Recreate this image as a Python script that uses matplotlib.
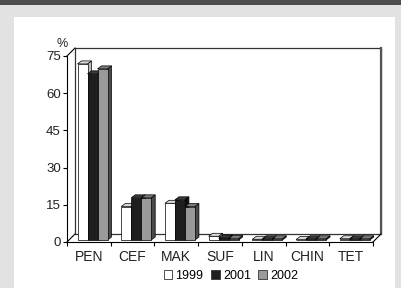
import numpy as np
import matplotlib.pyplot as plt
from matplotlib.patches import Rectangle, Polygon
from matplotlib.lines import Line2D

plt.rcParams['font.family'] = ['Liberation Sans Narrow', 'Liberation Sans', 'DejaVu Sans']

# data (%)
categories = ['PEN', 'CEF', 'MAK', 'SUF', 'LIN', 'CHIN', 'TET']
years = ['1999', '2001', '2002']
v1999 = [71.0, 13.5, 14.8, 1.5, 0.3, 0.2, 0.5]
v2001 = [67.0, 17.0, 16.2, 0.8, 0.5, 0.5, 0.5]
v2002 = [69.0, 17.0, 13.5, 0.6, 0.5, 0.5, 0.5]
series = [v1999, v2001, v2002]
yticks = [0, 15, 30, 45, 60, 75]

face = ['#ffffff', '#1e1e1e', '#9a9a9a']
top_c = ['#d8d8d8', '#3a3a3a', '#7a7a7a']
side_c = ['#bdbdbd', '#111111', '#4a4a4a']

W, H = 401, 288
fig = plt.figure(figsize=(W / 100, H / 100), dpi=100)
fig.patch.set_facecolor('#e2e2e2')
# dark band at top and white panel
fig.patches.append(Rectangle((0, 1 - 5 / H), 1, 5 / H, transform=fig.transFigure,
                             facecolor='#4d4d4d', edgecolor='none', zorder=-2))
fig.patches.append(Rectangle((14 / W, 0), (395 - 14) / W, (288 - 17) / H,
                             transform=fig.transFigure, facecolor='white',
                             edgecolor='none', zorder=-1))

x0, x1, y0, y1 = 67, 373, 242, 56
ax = fig.add_axes([x0 / W, (H - y0) / H, (x1 - x0) / W, (y0 - y1) / H])
ax.set_xlim(0, 7)
ax.set_ylim(0, 75)
ax.patch.set_alpha(0)

px_x = 7 / (x1 - x0)
px_y = 75 / (y0 - y1)
dx, dy = 8 * px_x, 8 * px_y      # wall depth
bdx, bdy = 4 * px_x, 3 * px_y    # bar depth
ox, oy = 1.5 * px_x, 2 * px_y    # bar offset into the floor
bw = 10 * px_x
start = 9 * px_x

lk = dict(color='black', lw=0.8, clip_on=False)
# back wall and floor
ax.add_patch(Rectangle((dx, dy), 7, 75, facecolor='white', edgecolor='#333333',
                       lw=0.9, clip_on=False, zorder=0))
ax.plot([7 + dx, 7 + dx], [dy, 75 + dy], color='#555555', lw=1.6, clip_on=False, zorder=0)
ax.plot([0, dx], [75, 75 + dy], **lk)
ax.plot([0, dx], [0, dy], **lk)
ax.plot([7, 7 + dx], [0, dy], **lk)

for i in range(len(categories)):
    for j, vals in enumerate(series):
        v = vals[i]
        xl = i + start + j * bw + ox
        yb = oy
        ax.add_patch(Polygon([(xl + bw, yb), (xl + bw + bdx, yb + bdy),
                              (xl + bw + bdx, yb + v + bdy), (xl + bw, yb + v)],
                             facecolor=side_c[j], edgecolor='black', lw=0.5,
                             clip_on=False, zorder=2))
        ax.add_patch(Polygon([(xl, yb + v), (xl + bdx, yb + v + bdy),
                              (xl + bw + bdx, yb + v + bdy), (xl + bw, yb + v)],
                             facecolor=top_c[j], edgecolor='black', lw=0.5,
                             clip_on=False, zorder=2))
        ax.add_patch(Rectangle((xl, yb), bw, v, facecolor=face[j],
                               edgecolor='black', lw=0.5, clip_on=False, zorder=2))

for s in ['top', 'right']:
    ax.spines[s].set_visible(False)
for s in ['left', 'bottom']:
    ax.spines[s].set_linewidth(0.8)
    ax.spines[s].set_zorder(3)

ax.set_yticks(yticks)
ax.set_yticklabels([str(t) for t in yticks], fontsize=9.5, color='#222222')
ax.tick_params(axis='y', length=3, width=0.8, pad=1.5)
ax.set_xticks(range(8))
ax.set_xticklabels([''] * 8)
ax.set_xticks(np.arange(7) + 0.5, minor=True)
ax.set_xticklabels(categories, minor=True, fontsize=10, color='#222222')
ax.tick_params(axis='x', which='major', length=3, width=0.8)
ax.tick_params(axis='x', which='minor', length=0, pad=6)

fig.text(62 / W, 1 - 44 / H, '%', ha='center', va='center', fontsize=9, color='#222222')

handles = [Rectangle((0, 0), 1, 1, facecolor=face[k], edgecolor='#333333', lw=0.6)
           for k in range(3)]
fig.legend(handles, years, loc='center', bbox_to_anchor=(231 / W, 1 - 276 / H), ncol=3,
           frameon=False, fontsize=9, handlelength=0.7, handleheight=0.7,
           handletextpad=0.25, columnspacing=0.6, borderpad=0)

fig.savefig('out.png', dpi=100)
